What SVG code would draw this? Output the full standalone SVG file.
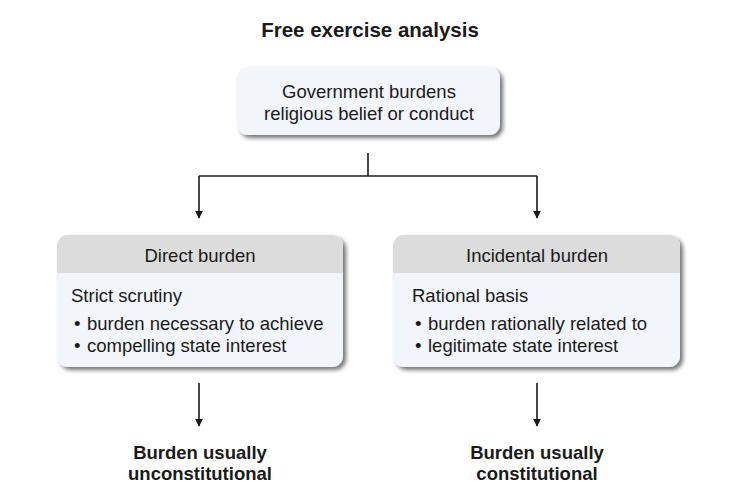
<svg xmlns="http://www.w3.org/2000/svg" width="742" height="494" viewBox="0 0 742 494">
<style>
.t{font-family:"Liberation Sans",Arial,sans-serif;font-size:18.5px;fill:#1a1a1a}
.b{font-weight:bold}
.c{text-anchor:middle}
.box{fill:#f2f5f9}
.hdr{fill:#dcdcdc}
.ln{stroke:#1a1a1a;stroke-width:1.6;fill:none}
</style>
<defs>
<filter id="sh" x="-10%" y="-10%" width="130%" height="140%">
<feGaussianBlur in="SourceAlpha" stdDeviation="2"/>
<feOffset dx="2.5" dy="3" result="o"/>
<feComponentTransfer><feFuncA type="linear" slope="0.55"/></feComponentTransfer>
<feMerge><feMergeNode/><feMergeNode in="SourceGraphic"/></feMerge>
</filter>
<clipPath id="cl"><rect x="57" y="235" width="286" height="132" rx="11"/></clipPath>
<clipPath id="cr"><rect x="393" y="235" width="287" height="132" rx="11"/></clipPath>
<marker id="ar" viewBox="0 0 10 10" refX="9" refY="5" markerWidth="8" markerHeight="9" markerUnits="userSpaceOnUse" orient="auto">
<path d="M0,0 L10,5 L0,10 Z" fill="#1a1a1a"/>
</marker>
</defs>
<text class="t b c" x="370" y="37" style="font-size:20.5px">Free exercise analysis</text>
<g id="top">
<rect class="box" x="237" y="67" width="263" height="68" rx="11" filter="url(#sh)"/>
<text class="t c" x="369" y="98">Government burdens</text>
<text class="t c" x="369" y="120">religious belief or conduct</text>
</g>
<g id="direct">
<rect class="box" x="57" y="235" width="286" height="132" rx="11" filter="url(#sh)"/>
<rect class="hdr" x="57" y="235" width="286" height="38" clip-path="url(#cl)"/>
<text class="t c" x="200" y="262">Direct burden</text>
<text class="t" x="71" y="302">Strict scrutiny</text>
<text class="t" x="74" y="330">•</text>
<text class="t" x="87" y="330">burden necessary to achieve</text>
<text class="t" x="74" y="352">•</text>
<text class="t" x="87" y="352">compelling state interest</text>
</g>
<g id="incidental">
<rect class="box" x="393" y="235" width="287" height="132" rx="11" filter="url(#sh)"/>
<rect class="hdr" x="393" y="235" width="287" height="38" clip-path="url(#cr)"/>
<text class="t c" x="537" y="262">Incidental burden</text>
<text class="t" x="412" y="302">Rational basis</text>
<text class="t" x="415" y="330">•</text>
<text class="t" x="428" y="330">burden rationally related to</text>
<text class="t" x="415" y="352">•</text>
<text class="t" x="428" y="352">legitimate state interest</text>
</g>
<g id="unconst">
<text class="t b c" x="200" y="459">Burden usually</text>
<text class="t b c" x="200" y="480">unconstitutional</text>
</g>
<g id="const">
<text class="t b c" x="537" y="459">Burden usually</text>
<text class="t b c" x="537" y="480">constitutional</text>
</g>
<g id="connectors">
<path class="ln" d="M368,153 V176"/>
<path class="ln" d="M199,176 H537"/>
<path class="ln" d="M199,176 V218" marker-end="url(#ar)"/>
<path class="ln" d="M537,176 V218" marker-end="url(#ar)"/>
<path class="ln" d="M199,383 V426" marker-end="url(#ar)"/>
<path class="ln" d="M537,383 V426" marker-end="url(#ar)"/>
</g>
</svg>
